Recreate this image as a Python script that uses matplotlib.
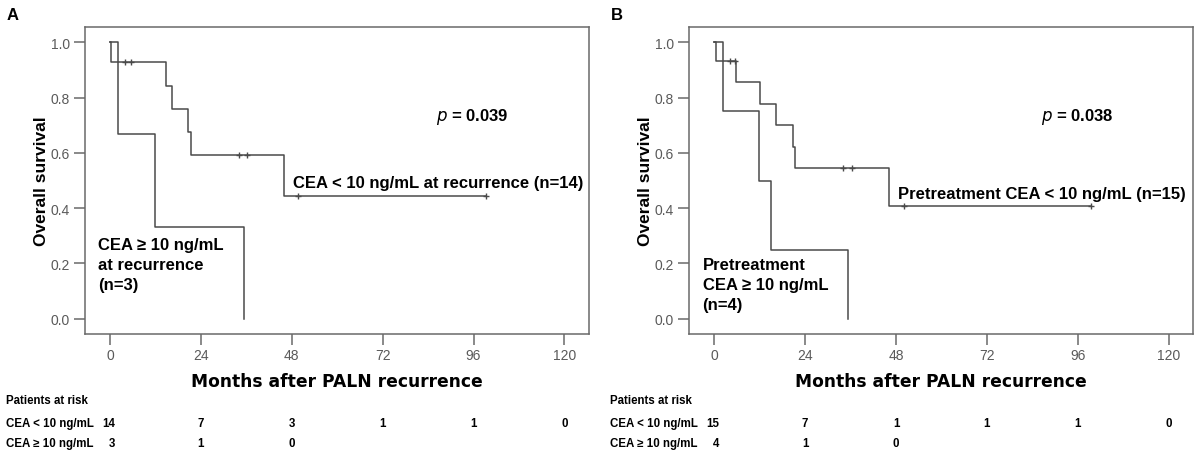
import numpy as np
import matplotlib
matplotlib.use("Agg")
import matplotlib.pyplot as plt
from matplotlib.transforms import blended_transform_factory

# Panel A - CEA at recurrence
a_low_t = [0, 0.3, 14.8, 16.4, 20.7, 21.4, 46.0]
a_low_s = [1.0, 0.929, 0.843, 0.759, 0.675, 0.591, 0.443]
a_low_end = 99.2
a_low_cens = [4.0, 5.5, 34.1, 36.1, 49.7, 99.2]

a_high_t = [0, 2.2, 11.9, 35.4]
a_high_s = [1.0, 0.667, 0.333, 0.0]
a_high_end = 35.4
a_high_cens = []

# Panel B - pretreatment CEA
b_low_t = [0, 0.4, 5.7, 12.1, 16.3, 20.7, 21.4, 46.1]
b_low_s = [1.0, 0.933, 0.855, 0.777, 0.699, 0.621, 0.544, 0.408]
b_low_end = 99.6
b_low_cens = [4.1, 5.4, 34.1, 36.3, 50.0, 99.6]

b_high_t = [0, 2.4, 11.9, 14.9, 35.4]
b_high_s = [1.0, 0.75, 0.5, 0.25, 0.0]
b_high_end = 35.4
b_high_cens = []

risk_times = [0, 24, 48, 72, 96, 120]
a_risk_low = ["14", "7", "3", "1", "1", "0"]
a_risk_high = ["3", "1", "0"]
b_risk_low = ["15", "7", "1", "1", "1", "0"]
b_risk_high = ["4", "1", "0"]

LINE = "#4a4a4a"
SPINE = "#6a6a6a"
TICK = "#5a5a5a"
BOLD = "Liberation Sans"
RISK_FS = 8.3


def surv_at(t, times, surv):
    idx = np.searchsorted(times, t, side="right") - 1
    return surv[idx]


def draw_curve(ax, times, surv, end, cens):
    xs = list(times) + [end]
    ys = list(surv) + [surv[-1]]
    ax.step(xs, ys, where="post", color=LINE, lw=1.1)
    if cens:
        cy = [surv_at(c, times, surv) for c in cens]
        ax.plot(cens, cy, ls="none", marker="+", ms=5, mew=1.0, color=LINE)


def panel(ax, label, low, high, p_text, low_label, high_label, high_y,
          risk_low, risk_high):
    draw_curve(ax, *low)
    draw_curve(ax, *high)
    ax.set_xlim(-6.6, 126.5)
    ax.set_ylim(-0.055, 1.055)
    ax.set_xticks(risk_times)
    ax.set_yticks([0.0, 0.2, 0.4, 0.6, 0.8, 1.0])
    ax.set_yticklabels(["0.0", "0.2", "0.4", "0.6", "0.8", "1.0"])
    for s in ax.spines.values():
        s.set_color(SPINE)
        s.set_linewidth(1.1)
    ax.tick_params(direction="out", length=8, width=1.1, color=SPINE,
                   labelcolor=TICK, labelsize=10)
    ax.tick_params(axis="x", pad=2)
    ax.tick_params(axis="y", pad=3)
    for t in ax.get_xticklabels() + ax.get_yticklabels():
        t.set_family("Liberation Sans")
    ax.set_ylabel("Overall survival", fontsize=12.5, fontweight="bold",
                  family=BOLD, labelpad=1)
    ax.set_xlabel("Months after PALN recurrence", fontsize=12.3,
                  fontweight="bold", family="DejaVu Sans", labelpad=7)

    ax.text(86.2, 0.735, p_text, fontsize=12, fontweight="bold", family=BOLD,
            va="center", ha="left")
    ax.text(48.4, low_label[1], low_label[0], fontsize=12, fontweight="bold",
            family=BOLD, va="center", ha="left")
    ax.text(-3.1, high_y, high_label, fontsize=12, fontweight="bold",
            family=BOLD, va="top", ha="left", linespacing=1.4)

    # panel letter
    pos = ax.get_position()
    fig.text(pos.x0 - 0.065, 0.967, label, fontsize=12, fontweight="bold",
             family=BOLD, va="center", ha="left")

    # patients at risk table
    tr = blended_transform_factory(ax.transData, fig.transFigure)
    fx = pos.x0 - 0.066
    fig.text(fx, 1 - 401 / 460, "Patients at risk", fontsize=RISK_FS,
             fontweight="bold", family=BOLD, va="center", ha="left")
    fig.text(fx, 1 - 424 / 460, "CEA < 10 ng/mL", fontsize=RISK_FS,
             fontweight="bold", family=BOLD, va="center", ha="left")
    fig.text(fx, 1 - 444 / 460, "CEA \u2265 10 ng/mL", fontsize=RISK_FS,
             fontweight="bold", family=BOLD, va="center", ha="left")
    for i, (t, n) in enumerate(zip(risk_times, risk_low)):
        ha = "right" if i == 0 else "center"
        x = t + 1.4 if i == 0 else t
        ax.text(x, 1 - 424 / 460, n, transform=tr, fontsize=RISK_FS,
                fontweight="bold", family=BOLD, va="center", ha=ha)
    for i, (t, n) in enumerate(zip(risk_times, risk_high)):
        ha = "right" if i == 0 else "center"
        x = t + 1.4 if i == 0 else t
        ax.text(x, 1 - 444 / 460, n, transform=tr, fontsize=RISK_FS,
                fontweight="bold", family=BOLD, va="center", ha=ha)


fig = plt.figure(figsize=(12, 4.6), dpi=100)
ax_a = fig.add_axes([85 / 1200, 1 - 335 / 460, 504 / 1200, 307 / 460])
ax_b = fig.add_axes([689.3 / 1200, 1 - 335 / 460, 504 / 1200, 307 / 460])

panel(ax_a, "A",
      (a_low_t, a_low_s, a_low_end, a_low_cens),
      (a_high_t, a_high_s, a_high_end, a_high_cens),
      r"$\bf{\it{p}}$ = 0.039",
      ("CEA < 10 ng/mL at recurrence (n=14)", 0.494),
      "CEA \u2265 10 ng/mL\nat recurrence\n(n=3)", 0.295,
      a_risk_low, a_risk_high)

panel(ax_b, "B",
      (b_low_t, b_low_s, b_low_end, b_low_cens),
      (b_high_t, b_high_s, b_high_end, b_high_cens),
      r"$\bf{\it{p}}$ = 0.038",
      ("Pretreatment CEA < 10 ng/mL (n=15)", 0.452),
      "Pretreatment\nCEA \u2265 10 ng/mL\n(n=4)", 0.223,
      b_risk_low, b_risk_high)

fig.savefig("out.png", dpi=100)
